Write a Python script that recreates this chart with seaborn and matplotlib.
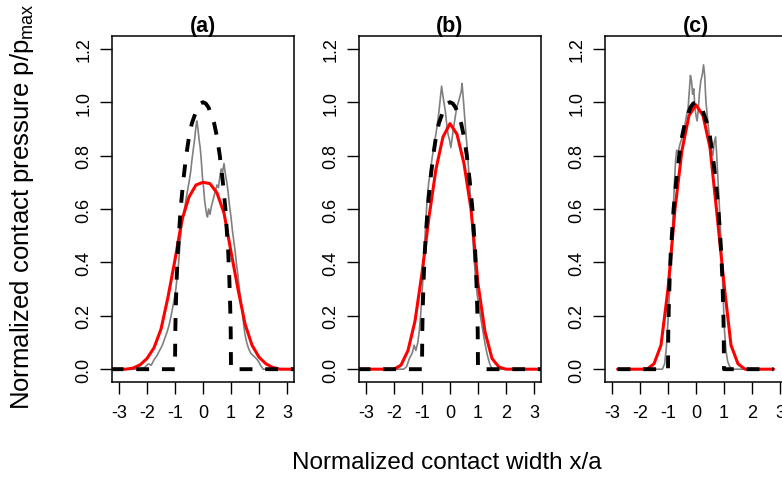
import matplotlib
matplotlib.use("Agg")
import matplotlib.pyplot as plt
import seaborn as sns

gray_a_x = [-3.3, -2.3, -2.1, -1.95, -1.85, -1.75, -1.65, -1.55, -1.45, -1.35, -1.28, -1.2, -1.12, -1.05,
            -0.98, -0.92, -0.87, -0.82, -0.77, -0.72, -0.66, -0.6, -0.55, -0.5, -0.44, -0.4, -0.35, -0.3,
            -0.25, -0.22, -0.18, -0.14, -0.1, -0.06, -0.02, 0.02, 0.06, 0.1, 0.13, 0.16, 0.2, 0.25, 0.3,
            0.35, 0.4, 0.45, 0.5, 0.55, 0.6, 0.65, 0.7, 0.75, 0.8, 0.85, 0.9, 0.95, 1.0, 1.05, 1.1, 1.15,
            1.2, 1.25, 1.3, 1.35, 1.4, 1.45, 1.5, 1.56, 1.62, 1.7, 1.8, 1.9, 1.98, 2.05, 2.15, 3.3]
gray_a_y = [0, 0, 0.005, 0.02, 0.015, 0.035, 0.05, 0.07, 0.09, 0.12, 0.14, 0.17, 0.21, 0.25,
            0.29, 0.35, 0.40, 0.47, 0.53, 0.56, 0.60, 0.64, 0.67, 0.70, 0.74, 0.78, 0.82, 0.86,
            0.91, 0.93, 0.90, 0.86, 0.83, 0.78, 0.72, 0.68, 0.63, 0.60, 0.58, 0.57, 0.60, 0.58, 0.61,
            0.63, 0.65, 0.67, 0.69, 0.68, 0.72, 0.75, 0.74, 0.77, 0.73, 0.70, 0.66, 0.61, 0.57, 0.52, 0.48, 0.44,
            0.39, 0.35, 0.30, 0.26, 0.22, 0.17, 0.13, 0.10, 0.08, 0.06, 0.05, 0.04, 0.03, 0.015, 0.0, 0]

gray_b_x = [-3.3, -1.65, -1.55, -1.45, -1.35, -1.28, -1.22, -1.15, -1.1, -1.05, -1.0, -0.95, -0.9, -0.86,
            -0.82, -0.76, -0.7, -0.64, -0.58, -0.52, -0.46, -0.4, -0.35, -0.3, -0.26, -0.22, -0.17, -0.12,
            -0.07, -0.02, 0.03, 0.07, 0.12, 0.18, 0.24, 0.3, 0.35, 0.4, 0.43, 0.47, 0.52, 0.57, 0.62, 0.67,
            0.72, 0.77, 0.82, 0.87, 0.92, 0.97, 1.03, 1.1, 1.18, 1.26, 1.34, 1.42, 1.5, 3.3]
gray_b_y = [0, 0, 0.01, 0.04, 0.06, 0.09, 0.07, 0.10, 0.14, 0.20, 0.28, 0.37, 0.48, 0.56,
            0.63, 0.70, 0.74, 0.79, 0.83, 0.87, 0.91, 0.96, 1.01, 1.06, 1.03, 1.00, 0.97, 0.92,
            0.88, 0.86, 0.83, 0.86, 0.90, 0.94, 0.98, 1.00, 1.02, 1.04, 1.07, 1.02, 0.95, 0.88, 0.82, 0.74,
            0.66, 0.58, 0.48, 0.40, 0.33, 0.28, 0.24, 0.19, 0.14, 0.09, 0.05, 0.02, 0.0, 0]

gray_c_x = [-2.8, -1.2, -1.12, -1.06, -1.01, -0.97, -0.93, -0.89, -0.85, -0.81, -0.77, -0.73, -0.69, -0.64,
            -0.58, -0.52, -0.46, -0.4, -0.34, -0.28, -0.24, -0.2, -0.16, -0.12, -0.08, -0.04, 0.0, 0.04,
            0.08, 0.12, 0.17, 0.22, 0.27, 0.31, 0.35, 0.4, 0.45, 0.5, 0.55, 0.6, 0.65, 0.7, 0.74, 0.78,
            0.82, 0.86, 0.9, 0.94, 0.98, 1.02, 1.07, 1.13, 1.2, 1.3, 2.77]
gray_c_y = [0, 0, 0.02, 0.08, 0.16, 0.24, 0.34, 0.42, 0.50, 0.60, 0.70, 0.78, 0.82, 0.81,
            0.84, 0.86, 0.88, 0.91, 0.95, 0.98, 1.04, 1.10, 1.08, 1.03, 1.05, 0.98, 0.95, 0.93,
            0.97, 1.03, 1.08, 1.10, 1.14, 1.10, 1.01, 0.95, 0.90, 0.85, 0.82, 0.80, 0.85, 0.87, 0.80, 0.72,
            0.64, 0.56, 0.46, 0.36, 0.24, 0.14, 0.07, 0.03, 0.01, 0.0, 0]

red_a_x = [-3.3, -2.75, -2.5, -2.25, -2.0, -1.75, -1.5, -1.25, -1.0, -0.75, -0.5, -0.25, 0.0,
           0.25, 0.5, 0.75, 1.0, 1.25, 1.5, 1.75, 2.0, 2.25, 2.5, 2.75, 3.3]
red_a_y = [0, 0, 0.004, 0.016, 0.04, 0.08, 0.15, 0.27, 0.41, 0.56, 0.645, 0.69, 0.70,
           0.695, 0.66, 0.585, 0.44, 0.30, 0.17, 0.09, 0.045, 0.02, 0.006, 0, 0]

red_b_x = [-3.3, -2.0, -1.75, -1.5, -1.25, -1.0, -0.75, -0.5, -0.25, 0.0,
           0.25, 0.5, 0.75, 1.0, 1.25, 1.5, 1.75, 2.0, 3.3]
red_b_y = [0, 0, 0.015, 0.07, 0.18, 0.36, 0.57, 0.75, 0.87, 0.92,
           0.88, 0.77, 0.60, 0.32, 0.14, 0.04, 0.008, 0, 0]

red_c_x = [-2.8, -1.75, -1.5, -1.25, -1.0, -0.75, -0.5, -0.25, 0.0,
           0.25, 0.5, 0.75, 1.0, 1.25, 1.5, 1.75, 2.77]
red_c_y = [0, 0, 0.02, 0.09, 0.30, 0.60, 0.82, 0.95, 0.99,
           0.95, 0.83, 0.58, 0.32, 0.09, 0.02, 0, 0]

hertz_ab_x = [-3.3, -1.0, -0.99, -0.97, -0.94, -0.9, -0.8, -0.7, -0.6, -0.5, -0.4, -0.3, -0.2, -0.1, 0.0,
              0.1, 0.2, 0.3, 0.4, 0.5, 0.6, 0.7, 0.8, 0.9, 0.94, 0.97, 0.99, 1.0, 3.3]
hertz_c_x = [-2.8] + hertz_ab_x[1:-1] + [2.77]
hertz_y = [0, 0, 0.14, 0.24, 0.34, 0.44, 0.60, 0.71, 0.80, 0.87, 0.92, 0.95, 0.98, 0.995, 1.0,
           0.995, 0.98, 0.95, 0.92, 0.87, 0.80, 0.71, 0.60, 0.44, 0.34, 0.24, 0.14, 0, 0]

titles = ["(a)", "(b)", "(c)"]
x_ticks = [-3, -2, -1, 0, 1, 2, 3]
y_ticks = [0.0, 0.2, 0.4, 0.6, 0.8, 1.0, 1.2]

panels = [
    (gray_a_x, gray_a_y, red_a_x, red_a_y, hertz_ab_x),
    (gray_b_x, gray_b_y, red_b_x, red_b_y, hertz_ab_x),
    (gray_c_x, gray_c_y, red_c_x, red_c_y, hertz_c_x),
]

sns.set_style("ticks")
plt.rcParams['font.family'] = ['Liberation Sans', 'DejaVu Sans']
plt.rcParams['axes.unicode_minus'] = False
plt.rcParams['text.color'] = 'black'
plt.rcParams['axes.labelcolor'] = 'black'

W, H = 782, 481
fig = plt.figure(figsize=(W / 100, H / 100), dpi=100)
lefts = [112, 359, 605]

for i, (gx, gy, rx, ry, hx) in enumerate(panels):
    ax = fig.add_axes([lefts[i] / W, 98 / H, 182 / W, 346 / H])
    sns.lineplot(x=gx, y=gy, ax=ax, color="#808080", lw=1.2, estimator=None, sort=False)
    sns.lineplot(x=rx, y=ry, ax=ax, color="#ff0000", lw=2.2, estimator=None, sort=False)
    sns.lineplot(x=hx, y=hertz_y, ax=ax, color="black", lw=2.8, estimator=None, sort=False)
    ax.lines[-1].set_dashes([3.3, 3.3])
    ax.set_xlim(-3.25, 3.25)
    ax.set_ylim(-0.048, 1.248)
    ax.set_xticks(x_ticks)
    ax.set_xticklabels([str(t) for t in x_ticks])
    ax.set_yticks(y_ticks)
    ax.set_yticklabels([f"{t:.1f}" for t in y_ticks], rotation=90, va="center")
    ax.tick_params(length=8.5, width=1.0, labelsize=13, color="black", labelcolor="black")
    ax.tick_params(axis="x", pad=7.5)
    ax.tick_params(axis="y", pad=5.5)
    for s in ax.spines.values():
        s.set_linewidth(1.1)
        s.set_color("black")
    ax.set_title(titles[i], fontsize=15.5, fontweight="bold", pad=1.5, color="black")

fig.text(22 / W, 1 - 207 / H, r"Normalized contact pressure p/p$_{\mathregular{max}}$",
         rotation=90, ha="center", va="center", fontsize=18.5, color="black")
fig.text(447 / W, 1 - 463 / H, "Normalized contact width x/a", ha="center", va="center",
         fontsize=17.5, color="black")

fig.savefig("out.png", dpi=100)
plt.close(fig)
